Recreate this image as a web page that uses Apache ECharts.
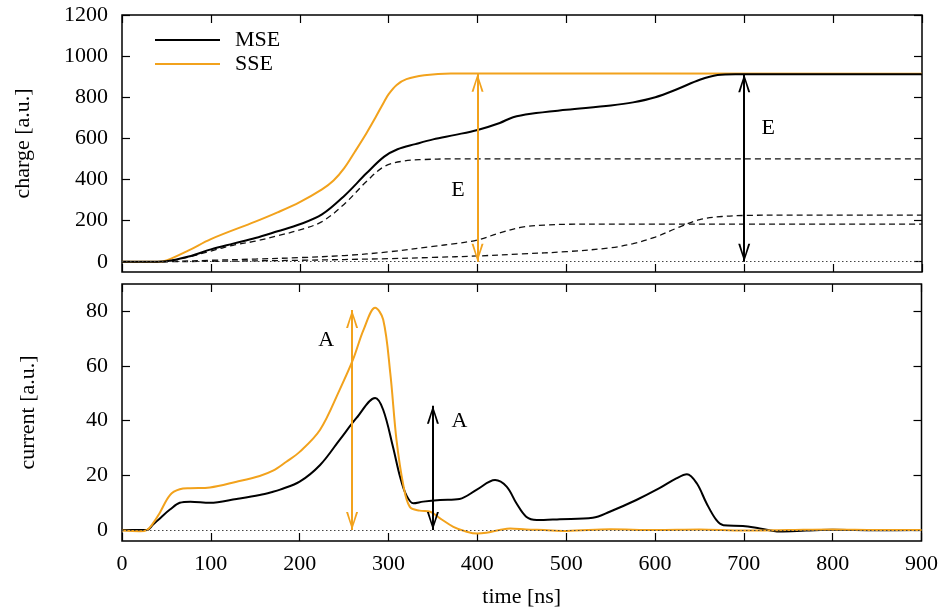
<!DOCTYPE html>
<html><head><meta charset="utf-8">
<script src="https://cdn.jsdelivr.net/npm/echarts@6/dist/echarts.min.js"></script>
<style>html,body{margin:0;padding:0;background:#fff}#c{width:941px;height:612px}</style>
</head><body><div id="c"></div>
<script>
// ---------- data ----------
const chargeTicks = [0, 200, 400, 600, 800, 1000, 1200];
const currentTicks = [0, 20, 40, 60, 80];

const mseChargeT = [0,25,40,50,75,100,125,150,175,200,225,250,275,295,310,330,350,375,400,425,440,460,500,550,575,600,625,650,670,690,900];
const mseChargeV = [0,0,0,2,25,60,88,115,148,182,230,320,430,511,547,572,595,617,641,675,703,720,739,760,775,800,840,885,908,912,912];

const sseChargeT = [0,30,40,50,75,100,150,175,200,225,238,250,262,275,285,294,300,309,320,340,370,400,900];
const sseChargeV = [0,0,0,6,55,110,195,240,290,352,395,455,535,625,700,771,815,860,888,907,916,916,914];

const comp1T = [0,40,50,75,100,125,150,175,200,225,250,275,295,317,340,369,900];
const comp1V = [0,0,2,23,52,80,100,126,155,195,280,390,463,490,497,500,500];

const comp2T = [0,40,60,100,150,200,250,300,350,375,400,425,450,475,500,550,900];
const comp2V = [0,0,2,7,13,20,30,48,75,88,106,140,168,178,182,183,183];

const comp3T = [0,50,100,200,300,350,400,450,500,550,575,600,625,650,675,700,750,900];
const comp3V = [0,0,2,7,15,21,28,38,49,68,88,120,165,205,220,225,227,227];

const mseCurrT = [0,20,28,35,45,54,65,77,99,129,155,170,178,200,223,245,264,285,294,305,313,320,328,339,358,380,399,420,433,444,455,467,493,530,549,579,605,624,636,647,658,669,677,699,718,740,770,800,850,900];
const mseCurrV = [0,0,0,2,5,7.5,10,10.4,10,11.4,12.8,14,14.8,17.7,23.8,33,41,48.3,44,30.5,19.5,12.8,9.8,10.4,11,11.4,14.7,18.3,15.9,9.8,4.9,3.7,4,4.5,6.7,11,15.3,18.9,20.4,17.1,9.8,3.7,1.8,1.5,0.6,-0.5,-0.2,0.1,-0.1,0];

const sseCurrT = [0,20,28,35,42,54,65,77,99,129,155,170,185,200,223,245,260,272,285,294,302,309,317,324,335,347,358,373,388,400,410,425,437,455,475,500,550,600,650,700,750,800,850,900];
const sseCurrV = [-0.2,-0.4,0,2.5,6,12.8,14.9,15.3,15.6,17.7,19.8,21.7,25,28.6,36.7,51.3,62.3,73.3,81.3,77,57.4,33,15.9,8.5,7.1,6.7,4.3,1.2,-0.6,-1.3,-1,0,0.6,0.2,0,-0.3,0.3,0,0.2,-0.2,0,0.2,0,0];

// annotations (data coordinates)
const chargeArrowSSE = {t: 400, from: 0, to: 914};
const chargeArrowMSE = {t: 700, from: 0, to: 912};
const currArrowSSE = {t: 259, from: 0, to: 80.5};
const currArrowMSE = {t: 350, from: 0, to: 45.5};
const chargeLabelSSE = {t: 378, v: 349, text: 'E'};
const chargeLabelMSE = {t: 727, v: 649, text: 'E'};
const currLabelSSE = {t: 230, v: 69.6, text: 'A'};
const currLabelMSE = {t: 380, v: 39.7, text: 'A'};

// ---------- chart ----------
const pair = (t, v) => t.map((x, i) => [x, v[i]]);
const FONT = 'Liberation Serif';
const ORANGE = '#F2A21C';
const BLACK = '#000000';
// open arrow head; the leading moveTo widens the box so the tip sits at the box centre
const chevron = 'path://M6,-18 M6,0 L12,18 L10,18 L6,4.5 L2,18 L0,18 Z';

function arrowLine(a, color) {
  return {
    silent: true, animation: false,
    symbol: [chevron, chevron], symbolSize: [12, 36], symbolKeepAspect: false,
    lineStyle: {color: color, width: 2, type: 'solid'},
    label: {show: false},
    data: [[{coord: [a.t, a.from]}, {coord: [a.t, a.to]}]]
  };
}
function textMark(l) {
  return {
    silent: true, animation: false,
    symbol: 'circle', symbolSize: 0,
    label: {show: true, position: 'inside', formatter: l.text, color: '#000', fontFamily: FONT, fontSize: 22},
    data: [{coord: [l.t, l.v]}]
  };
}
const zeroLine = {
  silent: true, animation: false, symbol: 'none',
  lineStyle: {color: '#444', width: 1, type: [1.5, 2.5]},
  label: {show: false},
  data: [{yAxis: 0}]
};

const grids = [
  {left: 122, top: 15, width: 800, height: 257},
  {left: 122, top: 284, width: 800, height: 257}
].map(g => Object.assign(g, {show: true, borderColor: '#000', borderWidth: 1.5, backgroundColor: 'transparent'}));

function xAx(gi, pos, labels) {
  return {
    type: 'value', gridIndex: gi, position: pos, min: 0, max: 900, interval: 100,
    axisLine: {show: false, onZero: false},
    axisTick: {show: true, inside: true, length: 8, lineStyle: {color: '#000', width: 1.2}},
    axisLabel: {show: labels, margin: 12, color: '#000', fontFamily: FONT, fontSize: 22, formatter: v => String(v)},
    splitLine: {show: false},
    name: labels ? 'time [ns]' : '', nameLocation: 'middle', nameGap: 45,
    nameTextStyle: {color: '#000', fontFamily: FONT, fontSize: 22}
  };
}
function yAx(gi, pos, min, max, ticks, labels, name, gap) {
  return {
    type: 'value', gridIndex: gi, position: pos, min: min, max: max,
    axisLine: {show: false, onZero: false},
    axisTick: {show: true, inside: true, length: 8, customValues: ticks, lineStyle: {color: '#000', width: 1.2}},
    axisLabel: {show: labels, customValues: ticks, margin: 14, color: '#000', fontFamily: FONT, fontSize: 22, formatter: v => String(v)},
    splitLine: {show: false},
    name: labels ? name : '', nameLocation: 'middle', nameGap: gap,
    nameTextStyle: {color: '#000', fontFamily: FONT, fontSize: 22}
  };
}

const lineBase = {type: 'line', showSymbol: false, symbol: 'none', smooth: 0.35, animation: false, z: 3};

const option = {
  backgroundColor: '#fff',
  animation: false,
  grid: grids,
  xAxis: [xAx(0, 'bottom', false), xAx(0, 'top', false), xAx(1, 'bottom', true), xAx(1, 'top', false)],
  yAxis: [
    yAx(0, 'left', -50, 1200, chargeTicks, true, 'charge [a.u.]', 88),
    yAx(0, 'right', -50, 1200, chargeTicks, false, '', 0),
    yAx(1, 'left', -4, 90, currentTicks, true, 'current [a.u.]', 83),
    yAx(1, 'right', -4, 90, currentTicks, false, '', 0)
  ],
  legend: {
    data: ['MSE', 'SSE'], orient: 'vertical', left: 150, top: 24,
    icon: 'rect', itemWidth: 65, itemHeight: 2, itemGap: 2,
    textStyle: {color: '#000', fontFamily: FONT, fontSize: 22, lineHeight: 22, padding: [0, 0, 0, 10]}
  },
  series: [
    Object.assign({}, lineBase, {name: 'c1', xAxisIndex: 0, yAxisIndex: 0, data: pair(comp1T, comp1V),
      lineStyle: {color: '#111', width: 1.3, type: [6, 4]}, markLine: zeroLine}),
    Object.assign({}, lineBase, {name: 'c2', xAxisIndex: 0, yAxisIndex: 0, data: pair(comp2T, comp2V),
      lineStyle: {color: '#111', width: 1.3, type: [6, 4]}}),
    Object.assign({}, lineBase, {name: 'c3', xAxisIndex: 0, yAxisIndex: 0, data: pair(comp3T, comp3V),
      lineStyle: {color: '#111', width: 1.3, type: [6, 4]}}),
    Object.assign({}, lineBase, {name: 'SSE', xAxisIndex: 0, yAxisIndex: 0, data: pair(sseChargeT, sseChargeV),
      color: ORANGE, lineStyle: {color: ORANGE, width: 2},
      markLine: arrowLine(chargeArrowSSE, ORANGE), markPoint: textMark(chargeLabelSSE)}),
    Object.assign({}, lineBase, {name: 'MSE', xAxisIndex: 0, yAxisIndex: 0, data: pair(mseChargeT, mseChargeV),
      color: BLACK, lineStyle: {color: BLACK, width: 2},
      markLine: arrowLine(chargeArrowMSE, BLACK), markPoint: textMark(chargeLabelMSE)}),
    Object.assign({}, lineBase, {name: 'MSE', xAxisIndex: 2, yAxisIndex: 2, data: pair(mseCurrT, mseCurrV),
      color: BLACK, lineStyle: {color: BLACK, width: 2},
      markLine: arrowLine(currArrowMSE, BLACK), markPoint: textMark(currLabelMSE)}),
    Object.assign({}, lineBase, {name: 'SSE', xAxisIndex: 2, yAxisIndex: 2, data: pair(sseCurrT, sseCurrV),
      color: ORANGE, lineStyle: {color: ORANGE, width: 2},
      markLine: arrowLine(currArrowSSE, ORANGE), markPoint: textMark(currLabelSSE)}),
    {type: 'line', name: 'zero2', xAxisIndex: 2, yAxisIndex: 2, data: [], markLine: zeroLine, animation: false}
  ]
};

const chart = echarts.init(document.getElementById('c'), null, {renderer: 'canvas'});
chart.setOption(option);
</script>
</body></html>
